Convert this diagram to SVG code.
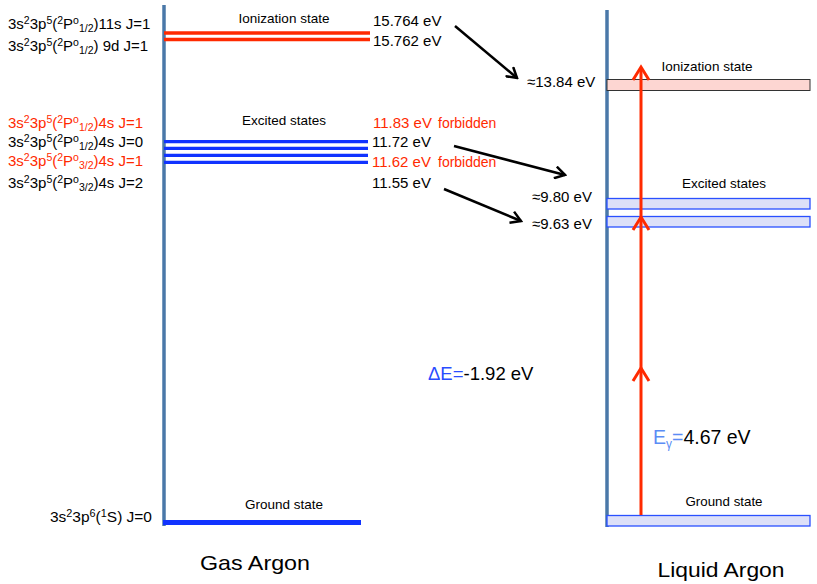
<svg xmlns="http://www.w3.org/2000/svg" width="817" height="584" viewBox="0 0 817 584">
<style>
text { font-family: "Liberation Sans", Arial, sans-serif; fill: #000; }
.lbl { font-size: 15px; }
.red { fill: #ff2a00; }
.sup { font-size: 10.5px; baseline-shift: 5px; }
.sub { font-size: 10.5px; baseline-shift: -3px; }
.st { font-size: 13.5px; text-anchor: middle; }
.fb { font-size: 14px; fill: #ff2a00; }
.big { font-size: 21px; text-anchor: middle; }
.axis { stroke: #4a78a8; stroke-width: 3.5; fill: none; }
.lvr { stroke: #ff2a00; stroke-width: 3.5; }
.lvb { stroke: #1133ff; stroke-width: 3.3; }
.arr { stroke: #000; stroke-width: 2.5; fill: none; }
.rarr { stroke: #ff2a00; stroke-width: 3; fill: none; }
.box { fill: #dde0f8; stroke: #2a50ff; stroke-width: 1.3; }
</style>
<defs>
<marker id="ah" markerUnits="userSpaceOnUse" viewBox="0 0 14 14" refX="12" refY="7" markerWidth="14" markerHeight="14" orient="auto">
<path d="M2,1 L12,7 L2,13" fill="none" stroke="#000" stroke-width="2.5"/>
</marker>
</defs>

<g id="gas-axis"><line class="axis" x1="164" y1="5" x2="164" y2="526"/></g>
<g id="liquid-axis"><line class="axis" x1="607" y1="10" x2="607" y2="527"/></g>

<g id="gas-ionization">
<line class="lvr" x1="164" y1="33" x2="370" y2="33"/>
<line class="lvr" x1="164" y1="39.5" x2="370" y2="39.5"/>
<text class="st" x="284" y="23">Ionization state</text>
<text class="lbl" x="8" y="29">3s<tspan class="sup">2</tspan>3p<tspan class="sup">5</tspan>(<tspan class="sup">2</tspan>P<tspan class="sup">o</tspan><tspan class="sub">1/2</tspan>)11s J=1</text>
<text class="lbl" x="8" y="51">3s<tspan class="sup">2</tspan>3p<tspan class="sup">5</tspan>(<tspan class="sup">2</tspan>P<tspan class="sup">o</tspan><tspan class="sub">1/2</tspan>) 9d J=1</text>
<text class="lbl" x="373" y="26">15.764 eV</text>
<text class="lbl" x="373" y="46">15.762 eV</text>
</g>

<g id="gas-excited">
<line class="lvb" x1="164" y1="141.6" x2="368" y2="141.6"/>
<line class="lvb" x1="164" y1="148.4" x2="368" y2="148.4"/>
<line class="lvb" x1="164" y1="155.3" x2="368" y2="155.3"/>
<line class="lvb" x1="164" y1="162.3" x2="368" y2="162.3"/>
<text class="st" x="284" y="125">Excited states</text>
<text class="lbl red" x="8" y="128">3s<tspan class="sup">2</tspan>3p<tspan class="sup">5</tspan>(<tspan class="sup">2</tspan>P<tspan class="sup">o</tspan><tspan class="sub">1/2</tspan>)4s J=1</text>
<text class="lbl" x="8" y="147">3s<tspan class="sup">2</tspan>3p<tspan class="sup">5</tspan>(<tspan class="sup">2</tspan>P<tspan class="sup">o</tspan><tspan class="sub">1/2</tspan>)4s J=0</text>
<text class="lbl red" x="8" y="166">3s<tspan class="sup">2</tspan>3p<tspan class="sup">5</tspan>(<tspan class="sup">2</tspan>P<tspan class="sup">o</tspan><tspan class="sub">3/2</tspan>)4s J=1</text>
<text class="lbl" x="8" y="188">3s<tspan class="sup">2</tspan>3p<tspan class="sup">5</tspan>(<tspan class="sup">2</tspan>P<tspan class="sup">o</tspan><tspan class="sub">3/2</tspan>)4s J=2</text>
<text class="lbl red" x="373" y="128">11.83 eV</text>
<text class="fb" x="438" y="128">forbidden</text>
<text class="lbl" x="372" y="147">11.72 eV</text>
<text class="lbl red" x="372" y="167">11.62 eV</text>
<text class="fb" x="438" y="167">forbidden</text>
<text class="lbl" x="372" y="188">11.55 eV</text>
</g>

<g id="gas-ground">
<line x1="163" y1="522.5" x2="361" y2="522.5" stroke="#1133ff" stroke-width="5"/>
<text class="st" x="284" y="509" textLength="78" lengthAdjust="spacingAndGlyphs">Ground state</text>
<text class="lbl" x="50" y="522" textLength="102" lengthAdjust="spacingAndGlyphs">3s<tspan class="sup">2</tspan>3p<tspan class="sup">6</tspan>(<tspan class="sup">1</tspan>S) J=0</text>
</g>

<g id="liquid-ionization">
<rect x="607" y="79.5" width="203" height="11" fill="#fdd6d2" stroke="#333" stroke-width="1"/>
<text class="st" x="707" y="71">Ionization state</text>
<text class="lbl" x="527" y="87">≈13.84 eV</text>
</g>

<g id="liquid-excited">
<rect class="box" x="607" y="198.5" width="203" height="10.5"/>
<rect class="box" x="607" y="216.5" width="203" height="10.5"/>
<text class="st" x="724" y="188">Excited states</text>
<text class="lbl" x="532" y="202">≈9.80 eV</text>
<text class="lbl" x="532" y="229">≈9.63 eV</text>
</g>

<g id="liquid-ground">
<rect class="box" x="607" y="515.5" width="203" height="10.5"/>
<text class="st" x="724" y="506" textLength="77" lengthAdjust="spacingAndGlyphs">Ground state</text>
</g>

<g id="connectors">
<line class="arr" x1="455" y1="26" x2="517" y2="78" marker-end="url(#ah)"/>
<line class="arr" x1="454" y1="146" x2="565" y2="175" marker-end="url(#ah)"/>
<line class="arr" x1="444" y1="189" x2="521" y2="221" marker-end="url(#ah)"/>
<line class="rarr" x1="641" y1="515" x2="641" y2="68"/>
<path class="rarr" d="M633,381 L641,368 L649,381"/>
<path class="rarr" d="M633,230 L641,217 L649,230"/>
<path class="rarr" d="M633,80 L641,67 L649,80"/>
</g>

<g id="annotations">
<text x="428" y="380" font-size="18.5"><tspan fill="#2a4cff">ΔE=</tspan>-1.92 eV</text>
<text x="653" y="444" font-size="19.5"><tspan fill="#5b8cf5">E<tspan font-size="12" baseline-shift="-4">γ</tspan>=</tspan>4.67 eV</text>
<text class="big" x="255" y="570" textLength="110" lengthAdjust="spacingAndGlyphs">Gas Argon</text>
<text class="big" x="721" y="577" textLength="127" lengthAdjust="spacingAndGlyphs">Liquid Argon</text>
</g>
</svg>
